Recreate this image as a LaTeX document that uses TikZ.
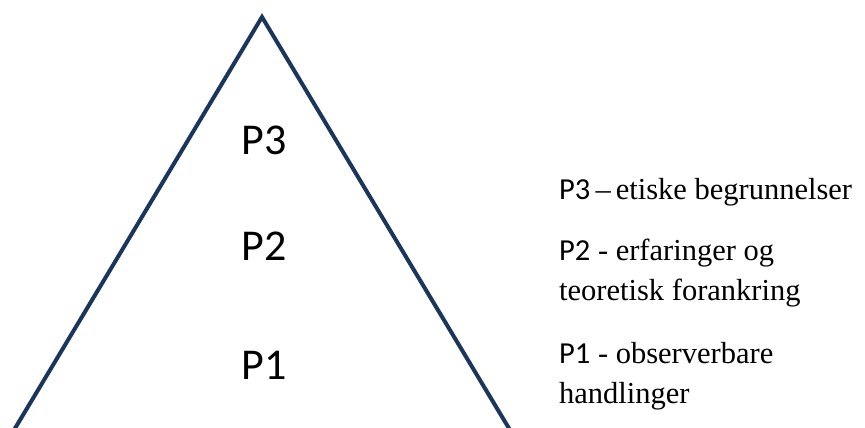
\documentclass[tikz,border=0pt]{standalone}
\usepackage{fontspec}
\setmainfont{Liberation Serif}
\newfontfamily\labelfont{Carlito}
\definecolor{navy}{HTML}{1B365D}
\tikzset{
  edge/.style={draw=navy, line width=4pt, line cap=round, line join=miter},
  level/.style={font=\labelfont\fontsize{44}{44}\selectfont, inner sep=0pt},
  desc/.style={font=\fontsize{30.5}{30.5}\selectfont, anchor=base west, inner sep=0pt},
}
\begin{document}
\begin{tikzpicture}[x=1pt,y=-1pt]
  \useasboundingbox (0,0) rectangle (865,428);
  \clip (0,0) rectangle (865,428);
  % triangle corners (base runs below the frame)
  \coordinate (apex) at (262,17);
  \coordinate (bl) at (-10,470);
  \coordinate (br) at (534,470);
  \draw[edge] (bl) -- (apex) -- (br);
  % levels inside the pyramid
  \node[level] (p3) at (264,140) {P3};
  \node[level] (p2) at (264,246) {P2};
  \node[level] (p1) at (264,365) {P1};
  % legend
  \node[desc] (d3) at (559,199) {{\labelfont P3}\,--\,etiske begrunnelser};
  \node[desc] (d2a) at (559,260) {{\labelfont P2} - erfaringer og};
  \node[desc] (d2b) at (559,300) {teoretisk forankring};
  \node[desc] (d1a) at (559,363) {{\labelfont P1} - observerbare};
  \node[desc] (d1b) at (559,403) {handlinger};
\end{tikzpicture}
\end{document}
